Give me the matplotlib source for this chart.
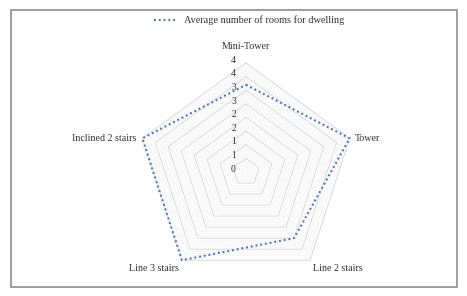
import numpy as np
import matplotlib.pyplot as plt
from matplotlib.patches import Rectangle

# Data
categories = ["Mini-Tower", "Tower", "Line 2 stairs", "Line 3 stairs", "Inclined 2 stairs"]
rooms = [3.2, 4.0, 3.0, 4.0, 4.0]
series_name = "Average number of rooms for dwelling"
r_ticks = [0, 0.5, 1, 1.5, 2, 2.5, 3, 3.5, 4]
r_tick_labels = ["0", "1", "1", "2", "2", "3", "3", "4", "4"]

plt.rcParams['font.family'] = ['Liberation Serif', 'DejaVu Serif']
text_color = "#333333"
blue = "#4472C4"

W, H = 467, 296
fig = plt.figure(figsize=(W / 100, H / 100), dpi=100)

# chart area border
fig.patches.append(Rectangle((11 / W, 1 - 287 / H), 446 / W, 277 / H,
                             transform=fig.transFigure, fill=False,
                             edgecolor="#8c8c8c", linewidth=1.2))

cx, cy, R = 246, 172, 109
ax = fig.add_axes([(cx - R) / W, (H - cy - R) / H, 2 * R / W, 2 * R / H], polar=True)
ax.set_theta_offset(np.pi / 2)
ax.set_theta_direction(-1)
ax.set_ylim(0, 4)
ax.grid(False)
ax.spines['polar'].set_visible(False)
ax.set_xticks([])
ax.set_yticks([])
ax.patch.set_alpha(0)

n = len(categories)
angles = np.linspace(0, 2 * np.pi, n, endpoint=False)
closed = np.append(angles, angles[0])

# pentagonal gridlines
for level in np.arange(0.1, 4.01, 0.1):
    major = abs(level * 2 - round(level * 2)) < 1e-6
    ax.plot(closed, [level] * (n + 1),
            color="#d0d0d0" if major else "#ececec",
            lw=0.6 if major else 0.4, clip_on=False, zorder=1)

# series
vals = rooms + rooms[:1]
ax.plot(closed, vals, color=blue, lw=1.5, linestyle=(0, (0.9, 1.4)),
        dash_capstyle='butt', clip_on=False, zorder=3, label=series_name)

# radial tick labels
for r, lab in zip(r_ticks, r_tick_labels):
    ax.annotate(lab, xy=(0, r), xytext=(-9, 2), textcoords='offset points',
                ha='center', va='center', fontsize=7, color=text_color,
                annotation_clip=False)

# category labels
offsets = [((0, 9), 'center', 'bottom'),
           ((4, 0), 'left', 'center'),
           ((2, -3), 'left', 'top'),
           ((-2, -3), 'right', 'top'),
           ((-4, 0), 'right', 'center')]
for ang, lab, (off, ha, va) in zip(angles, categories, offsets):
    ax.annotate(lab, xy=(ang, 4), xytext=off, textcoords='offset points',
                ha=ha, va=va, fontsize=7.2, color=text_color, annotation_clip=False)

fig.legend(loc='upper center', bbox_to_anchor=(0.533, 0.978), frameon=False,
           fontsize=7.4, handlelength=2.4, handletextpad=0.5, labelcolor=text_color)

fig.savefig("out.png", dpi=100)
